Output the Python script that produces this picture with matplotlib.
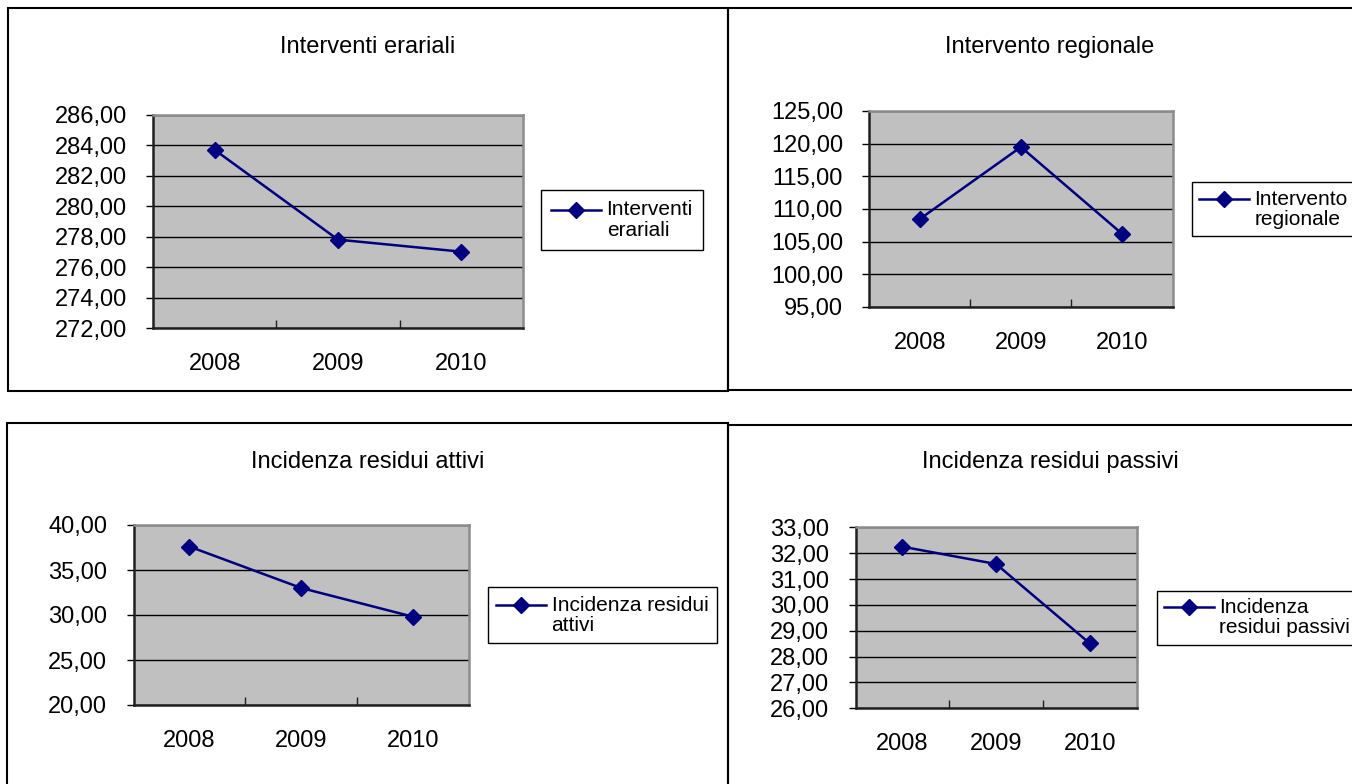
import matplotlib
matplotlib.use("Agg")
import matplotlib.pyplot as plt
from matplotlib.patches import Rectangle
from matplotlib.ticker import FixedLocator, FuncFormatter
from matplotlib.legend_handler import HandlerLine2D

plt.rcParams['font.family'] = ['Liberation Sans', 'DejaVu Sans']

years = ["2008", "2009", "2010"]

titles = ["Interventi erariali", "Intervento regionale",
          "Incidenza residui attivi", "Incidenza residui passivi"]
legend_labels = ["Interventi\nerariali", "Intervento\nregionale",
                 "Incidenza residui\nattivi", "Incidenza\nresidui passivi"]

interventi_erariali = [283.70, 277.82, 277.03]
intervento_regionale = [108.47, 119.49, 106.22]
residui_attivi = [37.60, 33.00, 29.81]
residui_passivi = [32.25, 31.58, 28.51]

yticks_1 = [272, 274, 276, 278, 280, 282, 284, 286]
yticks_2 = [95, 100, 105, 110, 115, 120, 125]
yticks_3 = [20, 25, 30, 35, 40]
yticks_4 = [26, 27, 28, 29, 30, 31, 32, 33]

series = [interventi_erariali, intervento_regionale, residui_attivi, residui_passivi]
yticks_all = [yticks_1, yticks_2, yticks_3, yticks_4]

W, H = 1352, 784
fig = plt.figure(figsize=(W / 100, H / 100), dpi=100)


def rect(x0, y0, x1, y1):
    return [x0 / W, 1 - y1 / H, (x1 - x0) / W, (y1 - y0) / H]


class FirstLineHandler(HandlerLine2D):
    """Place the legend handle level with the first text line."""
    def create_artists(self, legend, orig_handle, xdescent, ydescent,
                       width, height, fontsize, trans):
        arts = super().create_artists(legend, orig_handle, xdescent, ydescent,
                                      width, height, fontsize, trans)
        shift = 0.52 * fontsize
        for a in arts:
            a.set_ydata([y + shift for y in a.get_ydata()])
        return arts


# panel frames (pixel boxes)
frames = [(8, 8, 728, 391), (728, 8, 1372, 390), (7, 423, 728, 800), (728, 425, 1372, 800)]
axes_boxes = [(153.3, 115, 522.7, 328.3), (869.3, 111, 1172.5, 307),
              (133.6, 525, 468.8, 705), (855.5, 527.3, 1136.7, 708.3)]
legend_anchor = [(541, 190), (1191.7, 182.3), (488, 587.3), (1156.6, 590.7)]
legend_pad = [0.5, 0.35, 0.4, 0.35]
title_y = [52.7, 52.7, 467.7, 468.3]

for fr in frames:
    l, b, w, h = rect(*fr)
    fig.add_artist(Rectangle((l, b), w, h, transform=fig.transFigure,
                             facecolor='none', edgecolor='black', linewidth=1.5))

fmt = FuncFormatter(lambda v, p: f"{v:.2f}".replace('.', ','))

for i in range(4):
    ax = fig.add_axes(rect(*axes_boxes[i]))
    ax.set_facecolor('#C0C0C0')
    line, = ax.plot(years, series[i], color='#000080', linewidth=1.8,
                    marker='D', markersize=8.5, markerfacecolor='#000080',
                    markeredgecolor='#000080', label=legend_labels[i], zorder=3,
                    clip_on=False)
    ax.set_xlim(-0.5, 2.5)
    yt = yticks_all[i]
    ax.set_ylim(yt[0], yt[-1])
    ax.yaxis.set_major_locator(FixedLocator(yt))
    ax.yaxis.set_major_formatter(fmt)
    ax.grid(axis='y', color='black', linewidth=1.0)
    ax.set_axisbelow(True)
    ax.tick_params(axis='y', direction='out', length=5, width=1, pad=14,
                   labelsize=17, colors='black')
    ax.tick_params(axis='x', which='major', length=0, pad=18, labelsize=17)
    ax.xaxis.set_minor_locator(FixedLocator([0.5, 1.5]))
    ax.tick_params(axis='x', which='minor', direction='in', length=6, width=1,
                   color='#202020')
    for s in ['top', 'right']:
        ax.spines[s].set_color('#8C8C8C')
        ax.spines[s].set_linewidth(1.8)
    for s in ['left', 'bottom']:
        ax.spines[s].set_color('#202020')
        ax.spines[s].set_linewidth(1.8)

    # title centred on frame
    fx0, fy0, fx1, fy1 = frames[i]
    fig.text(((fx0 + fx1) / 2) / W, 1 - title_y[i] / H, titles[i],
             ha='center', va='baseline', fontsize=17)

    ax_x, ax_y = legend_anchor[i]
    leg = fig.legend(handles=[line], loc='upper left',
                     bbox_to_anchor=(ax_x / W, 1 - ax_y / H),
                     borderaxespad=0, frameon=True, fancybox=False,
                     edgecolor='black', framealpha=1, fontsize=15,
                     handlelength=2.4, handletextpad=0.25,
                     borderpad=legend_pad[i],
                     handler_map={line: FirstLineHandler()})
    leg.get_frame().set_linewidth(1.0)
    for t in leg.get_texts():
        t.set_linespacing(1.1)

fig.savefig("out.png", dpi=100)
